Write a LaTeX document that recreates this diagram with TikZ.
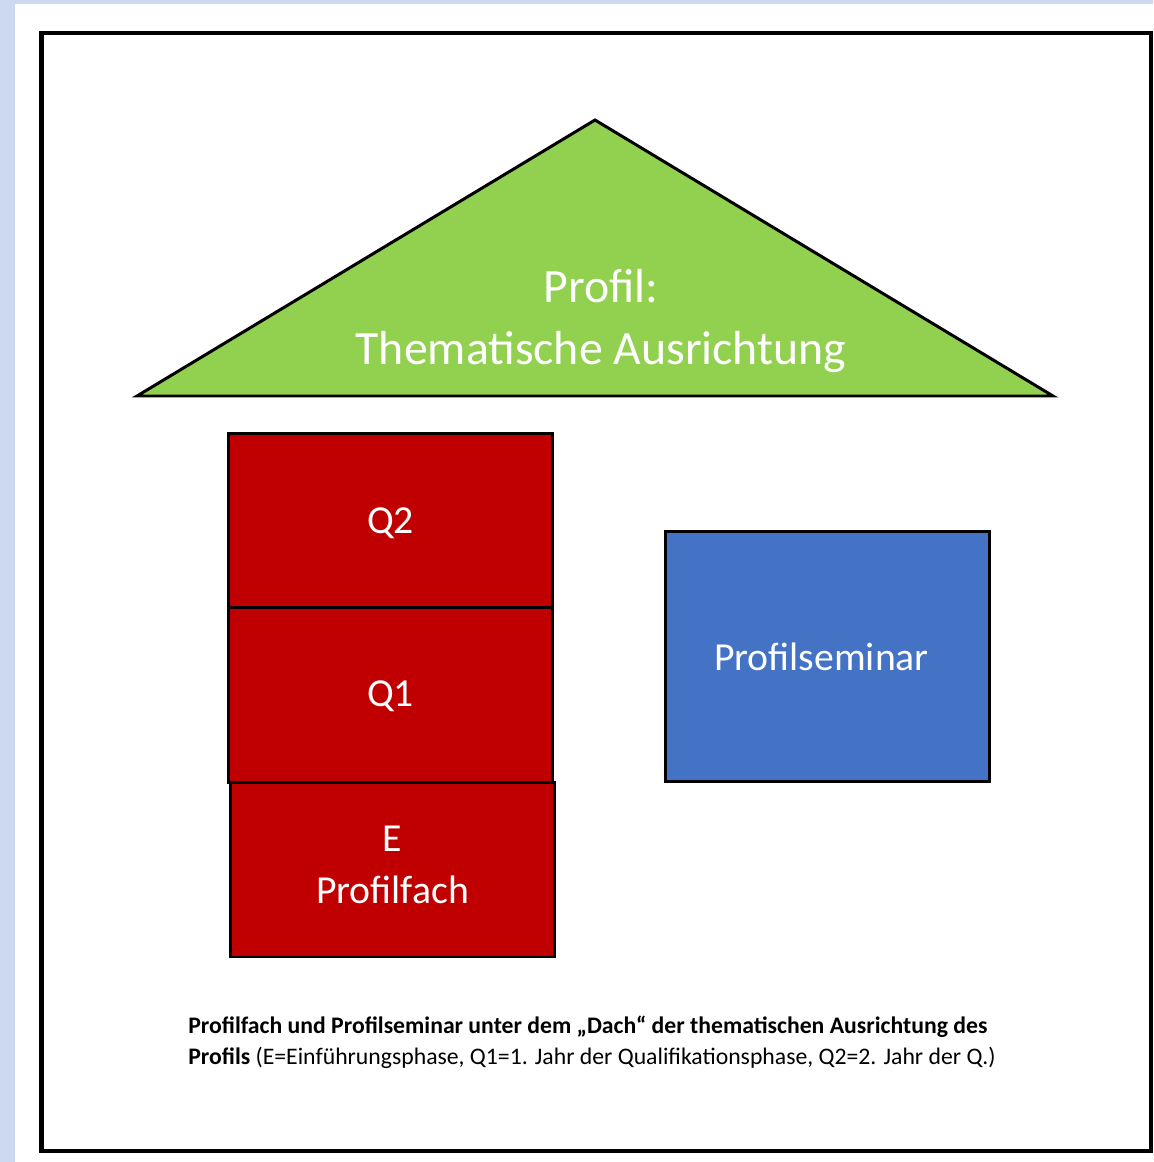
\documentclass[tikz,border=0pt]{standalone}
\usepackage{fontspec}
\setmainfont{Carlito}
\usetikzlibrary{positioning}

\definecolor{roofgreen}{RGB}{146,208,80}
\definecolor{phasered}{RGB}{192,0,0}
\definecolor{seminarblue}{RGB}{68,114,196}
\definecolor{pageblue}{RGB}{204,217,240}

\begin{document}
\begin{tikzpicture}[x=0.02cm, y=-0.02cm,
    phase/.style={draw=black, line width=1.7pt, fill=phasered, text=white, minimum width=6.5cm, minimum height=3.5cm, align=center, inner sep=0pt, font=\fontsize{22.6}{29.5}\selectfont},
    seminar/.style={draw=black, line width=1.7pt, fill=seminarblue, text=white, minimum width=6.5cm, minimum height=5.02cm, align=center, inner sep=0pt, font=\fontsize{22.6}{29.5}\selectfont},
    roof/.style={draw=black, line width=1.7pt, fill=roofgreen, line join=miter},
    rooftext/.style={text=white, align=center, font=\fontsize{27.2}{35.5}\selectfont},
    caption/.style={anchor=base west, inner sep=0pt, font=\fontsize{13.5}{17}\selectfont},
]
\useasboundingbox (0,0) rectangle (1153,1162);

% Page background
\fill[pageblue] (0,0) rectangle (1153,1162);
\fill[white] (15,4) rectangle (1153,1162);

% Outer frame
\draw[line width=2.3pt] (41.5,33) rectangle (1151,1151);

% Roof
\draw[roof] (137,396) -- (595,120) -- (1053,396) -- cycle;
\node[rooftext] (profil) at (601,321) {Profil:\\Thematische Ausrichtung};

% Profilfach phases
\node[phase, text height=0.62cm] (q2) at (390.5,520.5) {Q2};
\node[phase, text height=0.58cm] (q1) at (390.5,695) {Q1};
\node[phase, text depth=0.2cm] (e) at (392.5,869.5) {E\\Profilfach};

% Profilseminar
\node[seminar] (ps) at (827.5,656.5) {Profilseminar\hspace*{0.24cm}};

% Caption
\node[caption] (cap1) at (188,1033) {\textbf{Profilfach und Profilseminar unter dem „Dach“ der thematischen Ausrichtung des}};
\node[caption] (cap2) at (188,1064) {\textbf{Profils} (E=Einführungsphase, Q1=1. Jahr der Qualifikationsphase, Q2=2. Jahr der Q.)};

\end{tikzpicture}
\end{document}
